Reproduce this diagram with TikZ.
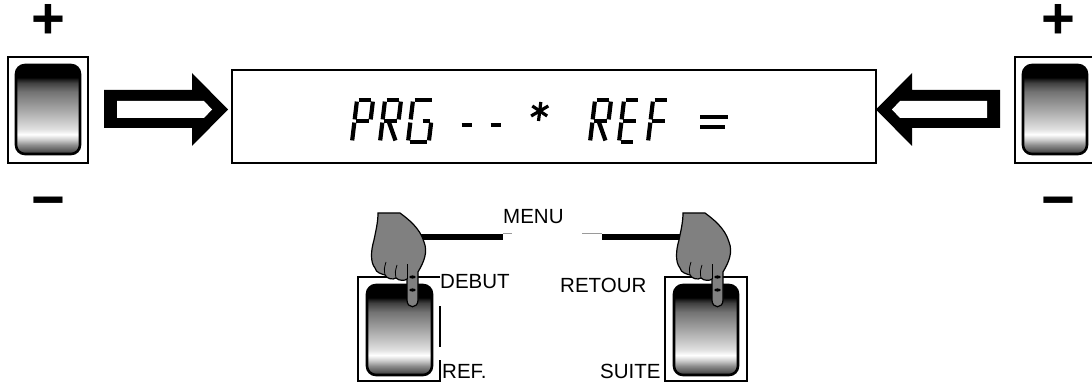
\documentclass[tikz,border=0pt]{standalone}
\usepackage{fontspec}
\setmainfont{Liberation Sans}
\usepackage{xcolor}
\definecolor{handgray}{HTML}{808080}
\definecolor{leadgray}{HTML}{9a9a9a}

% key face: black top band, dark to white to dark down the face
\pgfdeclareverticalshading{keyshade}{100bp}{color(0bp)=(black); color(25bp)=(black!80);
  color(27bp)=(black!65); color(30bp)=(black!45); color(33bp)=(black!20);
  color(36bp)=(white); color(39bp)=(black!12); color(50bp)=(black!35);
  color(60bp)=(black!55); color(65bp)=(black!75); color(67bp)=(black!90);
  color(68bp)=(black); color(100bp)=(black)}

% seven segment cell, 16 wide and 42 high, slanted
\newcommand{\segA}{\draw[lcdseg] (0,42) -- (16,42);}
\newcommand{\segB}{\draw[lcdseg] (16,42) -- (16,21);}
\newcommand{\segC}{\draw[lcdseg] (16,21) -- (16,0);}
\newcommand{\segD}{\draw[lcdseg] (0,0) -- (16,0);}
\newcommand{\segE}{\draw[lcdseg] (0,0) -- (0,21);}
\newcommand{\segF}{\draw[lcdseg] (0,21) -- (0,42);}
\newcommand{\segG}{\draw[lcdseg] (0,21) -- (16,21);}
\newcommand{\segR}{\draw[lcdseg] (6,21) -- (16,0);}
\newcommand{\lcdchar}[3][1]{
  \begin{scope}[shift={(#2,142)}, x=#1pt, y={(0.12pt,1pt)}]
    #3
  \end{scope}
}

\newcommand{\drawkeycap}[4]{\shadedraw[keycap] (#1,#2) rectangle (#3,#4);}
\newcommand{\drawswitch}[1]{
  \draw[keyframe] (#1,57) rectangle ++(80,106);
  \drawkeycap{#1+8}{65}{#1+72}{154}
}

\newcommand{\drawhand}[1]{
  \begin{scope}[shift={(#1,0)}]
    \draw[handfill] (378,213) -- (400,213)
      .. controls (408,219) and (420,228) .. (424,242)
      .. controls (428,252) and (424,262) .. (418,272)
      -- (418,300) .. controls (418,309) and (407,309) .. (407,300)
      -- (407,279) .. controls (405,281) and (399,281) .. (396,278)
      .. controls (393,280) and (387,279) .. (385,275)
      .. controls (382,274) and (376,273) .. (375,268)
      .. controls (370,262) and (371,250) .. (374,240)
      .. controls (376,230) and (378,222) .. (378,213) -- cycle;
    \draw[line width=0.8pt] (385,275) .. controls (384,269) .. (386,262);
    \draw[line width=0.8pt] (396,278) .. controls (395,272) .. (397,265);
    \draw[line width=0.8pt] (407,279) -- (407,264);
    \fill (412.5,277) ellipse (3.2 and 1.6);
    \fill (412.5,290) ellipse (3.2 and 1.6);
  \end{scope}
}

\begin{document}
\begin{tikzpicture}[x=1pt, y=-1pt,
    keyframe/.style={draw=black, line width=1.3pt},
    keycap/.style={shading=keyshade, draw=black, line width=2.6pt, rounded corners=9pt},
    lcdseg/.style={line width=4.2pt, shorten <=1.6pt, shorten >=1.6pt},
    keylabel/.style={inner sep=0pt, anchor=base west, font=\fontsize{20.5}{24}\selectfont},
    pmsign/.style={inner sep=0pt, anchor=base, text height=0.6em, text depth=0pt,
      font=\fontsize{58}{60}\selectfont\bfseries},
    handfill/.style={fill=handgray, draw=black, line width=1.2pt},
    menuline/.style={line width=6pt},
    leadline/.style={draw=leadgray, line width=1pt}]
  \useasboundingbox (0,0) rectangle (1092,382);
  \clip (0,0) rectangle (1092,382);

  % up/down switches on both sides
  \drawswitch{8}
  \drawswitch{1015}
  \node[pmsign] (lplus) at (48,39) {+};
  \node[pmsign] (lminus) at (48,219) {−};
  \node[pmsign] (rplus) at (1058,39) {+};
  \node[pmsign] (rminus) at (1058,219) {−};

  % display
  \node[draw, line width=1.6pt, minimum width=644pt, minimum height=93pt,
    anchor=north west, inner sep=0pt] (lcd) at (231,69) {};

  % block arrows into the display
  \fill (104,90) -- (192,90) -- (192,73) -- (228,109.5) -- (192,146)
    -- (192,128) -- (104,128) -- cycle;
  \fill[white] (117,101) -- (204,101) -- (212,109.5) -- (204,118) -- (117,118) -- cycle;
  \fill (1000,90) -- (912,90) -- (912,73) -- (876,109.5) -- (912,146)
    -- (912,128) -- (1000,128) -- cycle;
  \fill[white] (987,101) -- (900,101) -- (892,109.5) -- (900,118) -- (987,118) -- cycle;

  % PRG - - * REF =
  \lcdchar{352}{\segA\segB\segF\segG\segE}
  \lcdchar{380}{\segA\segB\segF\segG\segE\segR}
  \lcdchar[1.3]{408}{\segA\segF\segE\segD\segC\draw[lcdseg] (8,21) -- (16,21);}
  \lcdchar{458}{\draw[lcdseg] (0,17) -- (14,17);}
  \lcdchar{487}{\draw[lcdseg] (0,17) -- (14,17);}
  \lcdchar{528}{
    \draw[line width=3.2pt] (8,21) -- (8,40);
    \draw[line width=3.2pt] (0,26) -- (16,36) (0,36) -- (16,26);
  }
  \lcdchar{590}{\segA\segB\segF\segG\segE\segR}
  \lcdchar{619}{\segA\segF\segG\segE\segD}
  \lcdchar{648}{\segA\segF\segG\segE}
  \lcdchar{697}{\draw[lcdseg] (0,25) -- (28,25) (0,15) -- (28,15);}

  % labels
  \node[keylabel] (menu) at (503,223) {MENU};
  \node[keylabel] (debut) at (440,288) {DEBUT};
  \node[keylabel] (retour) at (560,292) {RETOUR};
  \node[keylabel] (ref) at (442,378) {REF.};
  \node[keylabel] (suite) at (600,378) {SUITE};

  % menu bar between the two hands
  \coordinate (lhand) at (415,237);
  \coordinate (rhand) at (690,237);
  \coordinate (rmenu) at (602,237);
  \draw[menuline] (lhand) -- (lhand -| menu.west);
  \draw[leadline] ([yshift=3.5pt]lhand -| menu.west) -- ++(9,0);
  \draw[menuline] (rmenu) -- (rhand);
  \draw[leadline] ([yshift=3.5pt]rmenu) -- ++(-20,0);

  % the two keys below
  \draw[keyframe] (debut.west |- 0,277) -- (358,277) -- (358,381) -- (440,381) -- (440,360);
  \draw[keyframe] (440,306) -- (440,347);
  \drawkeycap{367}{285}{432}{375}
  \draw[keyframe] (665,277) rectangle (747,381);
  \drawkeycap{674}{285}{738}{375}

  \drawhand{0}
  \drawhand{305}
\end{tikzpicture}
\end{document}
